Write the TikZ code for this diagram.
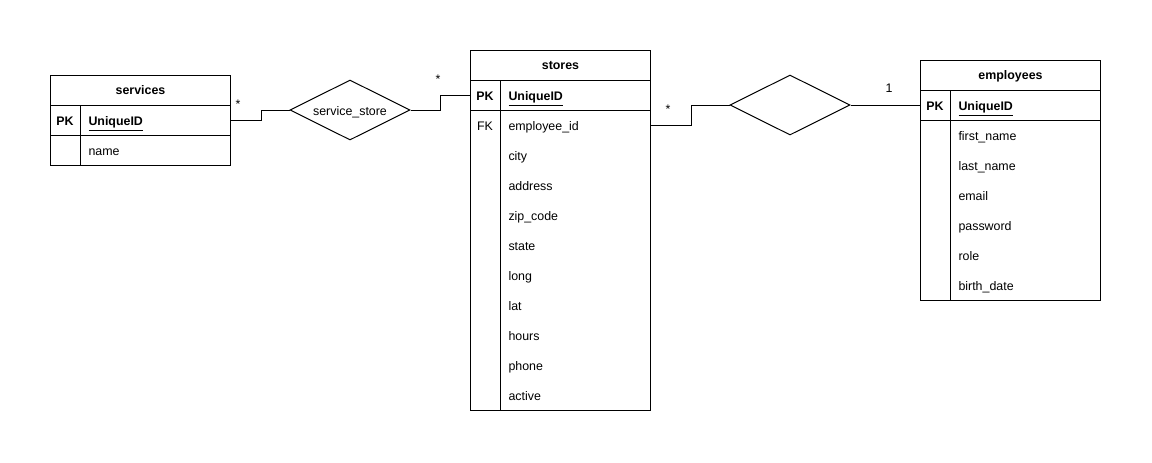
\documentclass[tikz,border=0pt]{standalone}
\usepackage{fontspec}
\setmainfont{Liberation Sans}
\usetikzlibrary{shapes.geometric}
\newcommand{\erfont}{\fontsize{9.3}{11}\selectfont}
\begin{document}
\begin{tikzpicture}[x=0.75pt,y=-0.75pt,
  every node/.style={font=\erfont},
  line width=0.75pt,
  hdrbox/.style={draw, minimum width=135pt, minimum height=22.5pt, inner sep=0pt, anchor=north west},
  hdrtxt/.style={inner sep=0pt, text height=6.7pt, text depth=0pt, font=\erfont\bfseries},
  rowbox/.style={minimum width=135pt, minimum height=22.5pt, inner sep=0pt, anchor=north west},
  outerbox/.style={draw, minimum width=135pt, inner sep=0pt, anchor=north west},
  txtbase/.style={inner sep=0pt, text height=6.7pt, text depth=0pt},
  keytxt/.style={txtbase, font=\erfont\bfseries},
  fktxt/.style={txtbase},
  fldtxt/.style={txtbase, anchor=west},
  pktxt/.style={txtbase, anchor=west, font=\erfont\bfseries},
  relshape/.style={draw, diamond, minimum width=90pt, minimum height=45pt, inner sep=0pt, aspect=2},
  card/.style={inner sep=0pt}
]
\useasboundingbox (0,0) rectangle (1152,462);
\fill[white] (0,0) rectangle (1152,462);

% ---------- services ----------
\node[hdrbox] (svcH) at (50,75) {};
\node[hdrtxt] (svcHt) at (svcH.center) {services};
\node[outerbox, minimum height=45pt] (svcB) at (50,105) {};
\node[rowbox, draw] (svcPK) at (50,105) {};
\node[rowbox] (svcN) at (50,135) {};
\draw (80,105) -- (80,165);
\node[keytxt] (svcPKk) at (65,121) {PK};
\node[pktxt] (svcPKf) at (88,121) {\underline{UniqueID}};
\node[fldtxt] (svcNf) at (88,151) {name};

% ---------- stores ----------
\node[hdrbox] (stH) at (470,50) {};
\node[hdrtxt] (stHt) at (stH.center) {stores};
\node[outerbox, minimum height=247.5pt] (stB) at (470,80) {};
\node[rowbox, draw] (stPK) at (470,80) {};
\node[rowbox] (stFK) at (470,110) {};
\draw (500,80) -- (500,410);
\node[keytxt] (stPKk) at (485,96) {PK};
\node[pktxt] (stPKf) at (508,96) {\underline{UniqueID}};
\node[fktxt] (stFKk) at (485,126) {FK};
\node[fldtxt] (stF1) at (508,126) {employee\_id};
\node[fldtxt] (stF2) at (508,156) {city};
\node[fldtxt] (stF3) at (508,186) {address};
\node[fldtxt] (stF4) at (508,216) {zip\_code};
\node[fldtxt] (stF5) at (508,246) {state};
\node[fldtxt] (stF6) at (508,276) {long};
\node[fldtxt] (stF7) at (508,306) {lat};
\node[fldtxt] (stF8) at (508,336) {hours};
\node[fldtxt] (stF9) at (508,366) {phone};
\node[fldtxt] (stF10) at (508,396) {active};

% ---------- employees ----------
\node[hdrbox] (emH) at (920,60) {};
\node[hdrtxt] (emHt) at (emH.center) {employees};
\node[outerbox, minimum height=157.5pt] (emB) at (920,90) {};
\node[rowbox, draw] (emPK) at (920,90) {};
\draw (950,90) -- (950,300);
\node[keytxt] (emPKk) at (935,106) {PK};
\node[pktxt] (emPKf) at (958,106) {\underline{UniqueID}};
\node[fldtxt] (emF1) at (958,136) {first\_name};
\node[fldtxt] (emF2) at (958,166) {last\_name};
\node[fldtxt] (emF3) at (958,196) {email};
\node[fldtxt] (emF4) at (958,226) {password};
\node[fldtxt] (emF5) at (958,256) {role};
\node[fldtxt] (emF6) at (958,286) {birth\_date};

% ---------- relationships ----------
\node[relshape] (ss) at (350,110) {};
\node[txtbase] (sst) at (350,111) {service\_store};
\node[relshape] (rel) at (790,105) {};

\draw (svcPK.east) -- ++(30,0) |- (ss.west);
\draw (ss.east) -- ++(30,0) |- (stPK.west);
\draw (stFK.east) -- ++(40,0) |- (rel.west);
\draw (rel.east) -- (rel.east -| emPK.west);

% ---------- cardinalities ----------
\node[card] (c1) at (238,104.5) {*};
\node[card] (c2) at (438,79) {*};
\node[card] (c3) at (668,109.5) {*};
\node[card] (c4) at (889,88.5) {1};
\end{tikzpicture}
\end{document}
